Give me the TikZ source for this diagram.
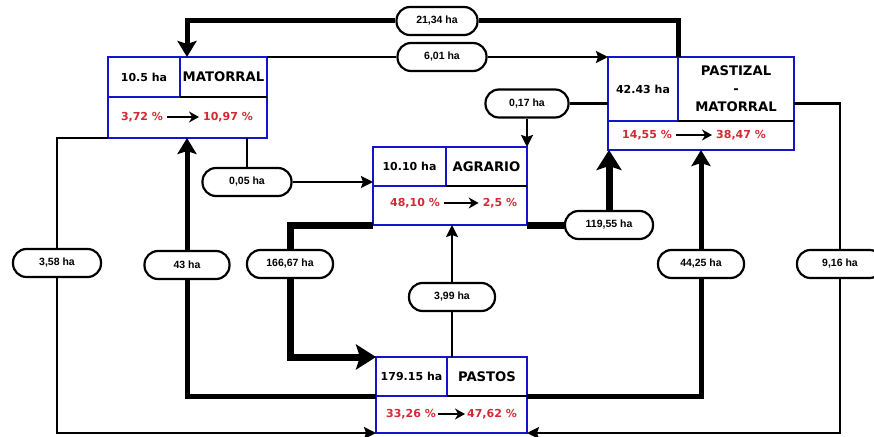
\documentclass[tikz,border=0pt]{standalone}
\usepackage{fontspec}
\setmainfont{DejaVu Sans}
\newfontfamily\pillfont{Liberation Sans}
\usetikzlibrary{arrows.meta,positioning,calc}
\definecolor{coverblue}{HTML}{1414C8}
\definecolor{sharered}{HTML}{D22A32}

\begin{document}
\begin{tikzpicture}[x=1pt,y=-1pt,
  cover/.style={draw=coverblue,line width=2.8pt,inner sep=0pt,outer sep=0pt,anchor=north west},
  hacell/.style={cover,font=\bfseries\fontsize{11}{13}\selectfont},
  landname/.style={font=\bfseries\fontsize{13.2}{18}\selectfont,align=center},
  share/.style={text=sharered,font=\bfseries\fontsize{11}{13}\selectfont,inner sep=2pt},
  pctarrow/.style={-{Stealth[length=10pt,width=11pt]},line width=2.8pt,shorten <=2pt,shorten >=2pt},
  pill/.style={draw,fill=white,line width=2.2pt,rounded corners=13.5pt,minimum width=86pt,
    minimum height=28pt,font=\pillfont\bfseries\fontsize{10.5}{12}\selectfont},
  flow/.style={line width=2.3pt},
  flowto/.style={flow,-{Stealth[length=12pt,width=12pt,inset=2pt]}},
  bigflow/.style={line width=5pt},
  bigflowto/.style={bigflow,-{Stealth[length=16pt,width=19pt,inset=3pt]}},
  hugeflow/.style={line width=7pt},
  hugeflowto/.style={hugeflow,-{Stealth[length=20pt,width=25pt,inset=4pt]}},
]
  \useasboundingbox (0,0) rectangle (874,436);

  % land cover boxes
  \node[cover,minimum width=159pt,minimum height=81pt] (matorral) at (108,57) {};
  \node[hacell,minimum width=72pt,minimum height=40pt] (matorral-ha) at (matorral.north west) {10.5 ha};
  \node[landname] (matorral-name) at ($(matorral-ha.east)!0.5!(matorral-ha.east -| matorral.east)$) {MATORRAL};
  \draw[line width=2.4pt] (matorral-ha.south east) -- (matorral-ha.south east -| matorral.east);
  \node[share] (matorral-from) at (142,117) {3,72 \%};
  \node[share] (matorral-to) at (228,117) {10,97 \%};
  \draw[pctarrow] (matorral-from) -- (matorral-to);

  \node[cover,minimum width=186pt,minimum height=93pt] (pastizal) at (608,57) {};
  \node[hacell,minimum width=70pt,minimum height=64pt] (pastizal-ha) at (pastizal.north west) {42.43 ha};
  \node[landname] (pastizal-name) at ($(pastizal-ha.east)!0.5!(pastizal-ha.east -| pastizal.east)$) {PASTIZAL\\-\\MATORRAL};
  \draw[line width=2.4pt] (pastizal-ha.south east) -- (pastizal-ha.south east -| pastizal.east);
  \node[share] (pastizal-from) at (647,135) {14,55 \%};
  \node[share] (pastizal-to) at (741,135) {38,47 \%};
  \draw[pctarrow] (pastizal-from) -- (pastizal-to);

  \node[cover,minimum width=154pt,minimum height=78pt] (agrario) at (373,147) {};
  \node[hacell,minimum width=73pt,minimum height=39pt] (agrario-ha) at (agrario.north west) {10.10 ha};
  \node[landname] (agrario-name) at ($(agrario-ha.east)!0.5!(agrario-ha.east -| agrario.east)$) {AGRARIO};
  \draw[line width=2.4pt] (agrario-ha.south east) -- (agrario-ha.south east -| agrario.east);
  \node[share] (agrario-from) at (415,203) {48,10 \%};
  \node[share] (agrario-to) at (500,203) {2,5 \%};
  \draw[pctarrow] (agrario-from) -- (agrario-to);

  \node[cover,minimum width=151pt,minimum height=76pt] (pastos) at (376,357) {};
  \node[hacell,minimum width=71pt,minimum height=39pt] (pastos-ha) at (pastos.north west) {179.15 ha};
  \node[landname] (pastos-name) at ($(pastos-ha.east)!0.5!(pastos-ha.east -| pastos.east)$) {PASTOS};
  \draw[line width=2.4pt] (pastos-ha.south east) -- (pastos-ha.south east -| pastos.east);
  \node[share] (pastos-from) at (411,414) {33,26 \%};
  \node[share] (pastos-to) at (492,414) {47,62 \%};
  \draw[pctarrow,shorten <=0pt,shorten >=0pt] (pastos-from) -- (pastos-to);

  % transition labels
  \node[pill,minimum width=81pt] (f2134) at (437,21) {21,34 ha};
  \node[pill,minimum width=89pt] (f601) at (442,57) {6,01 ha};
  \node[pill,minimum width=83pt] (f017) at (527,103.5) {0,17 ha};
  \node[pill,minimum width=89pt] (f005) at (247,182) {0,05 ha};
  \node[pill,minimum width=88pt] (f358) at (57,263) {3,58 ha};
  \node[pill,minimum width=85pt] (f43) at (187,265) {43 ha};
  \node[pill] (f16667) at (290,264) {166,67 ha};
  \node[pill,minimum width=88pt] (f11955) at (609,225) {119,55 ha};
  \node[pill] (f4425) at (701,264) {44,25 ha};
  \node[pill] (f916) at (840,264) {9,16 ha};
  \node[pill] (f399) at (452,297) {3,99 ha};

  % flows
  \draw[bigflow] (pastizal-ha.north east) |- (f2134.east);
  \draw[bigflowto] (f2134.west) -| ([xshift=7pt]matorral-ha.north east);
  \draw[flow] (matorral.north east) -- (f601.west);
  \draw[flowto] (f601.east) -- (pastizal.north west);
  \draw[flow] (pastizal.west) -- (f017.east);
  \draw[flowto] (f017.south) -- (agrario.north east);
  \draw[flow] (matorral.south -| f005) -- (f005.north);
  \draw[flowto] (f005.east) -- (f005.east -| agrario.west);
  \draw[flow] (matorral.south west) -| (f358.north);
  \draw[flowto] (f358.south) |- (pastos.south west);
  \draw[bigflow] (pastos-ha.south west) -| (f43.south);
  \draw[bigflowto] (f43.north) -- (f43.north |- matorral.south);
  \draw[hugeflow] (agrario.south west) -| (f16667.north);
  \draw[hugeflowto] (f16667.south) |- (pastos.north west);
  \draw[hugeflow] (agrario.south east) -- (f11955.west);
  \draw[hugeflowto] (f11955.north) -- (f11955.north |- pastizal.south);
  \draw[bigflow] (pastos.east |- pastos-ha.south) -| (f4425.south);
  \draw[bigflowto] (f4425.north) -- (f4425.north |- pastizal.south);
  \draw[flow] (pastizal.east) -| (f916.north);
  \draw[flowto] (f916.south) |- (pastos.south east);
  \draw[flow] (pastos.north -| f399) -- (f399.south);
  \draw[flowto] (f399.north) -- (f399.north |- agrario.south);
\end{tikzpicture}
\end{document}
